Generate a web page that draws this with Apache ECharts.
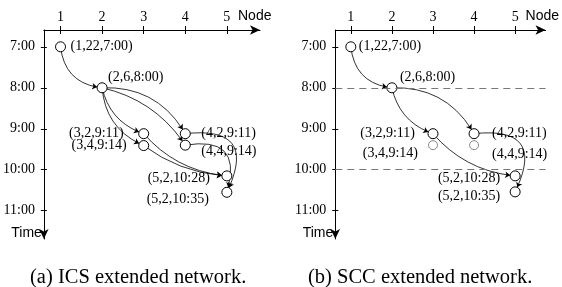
<!DOCTYPE html>
<html>
<head>
<meta charset="utf-8">
<style>
  html, body { margin: 0; padding: 0; background: #fff; }
  #chart { width: 562px; height: 287px; }
</style>
<script src="https://cdn.jsdelivr.net/npm/echarts@6/dist/echarts.min.js"></script>
</head>
<body>
<div id="chart"></div>
<script>
// 节点编号 和 时间位置(小时, 按图上的位置读取)
const nodeNo = [1, 2, 3, 3, 4, 4, 5, 5];
const timeA = [7.0, 8.0, 9.12, 9.41, 9.12, 9.40, 10.15, 10.55];
const timeB = [7.0, 8.0, 9.12, 9.40, 9.12, 9.40, 10.15, 10.54];
const nodeText = ['(1,22,7:00)', '(2,6,8:00)', '(3,2,9:11)', '(3,4,9:14)',
  '(4,2,9:11)', '(4,4,9:14)', '(5,2,10:28)', '(5,2,10:35)'];
const xTicks = [1, 2, 3, 4, 5];
const yTicks = [7, 8, 9, 10, 11];
const yTickText = ['7:00', '8:00', '9:00', '10:00', '11:00'];
const edgesA = [[0, 1], [1, 2], [1, 3], [1, 4], [1, 5], [2, 6], [3, 6], [4, 7], [5, 7]];
const edgesB = [[0, 1], [1, 2], [1, 4], [2, 6], [4, 7]];
const greyB = [3, 5];
const dashTimes = [8, 10];
const captions = ['(a) ICS extended network.', '(b) SCC extended network.'];

// 样式: 曲线弯曲度, 标签位置
const curveA = [-0.4, -0.28, -0.3, 0.3, 0.2, -0.2, -0.15, 0.9, 0.8];
const curveB = [-0.4, -0.28, 0.3, -0.2, 0.9];
const labA = [['left', 10, 0], ['left', 6, -10], ['right', -20, 0], ['right', -17, 0],
  ['left', 16, 0], ['left', 16, 6], ['right', -17, 2], ['right', -18, 7]];
const labB = [['left', 8, 0], ['left', 8, -10], ['right', -18, 0], ['right', -15, 8],
  ['left', 18, 0], ['left', 18, 9], ['right', -15, 2], ['right', -15, 4]];

const serif = 'Liberation Serif';
const sans = 'Liberation Sans';

const grids = [
  { left: 43.3, top: 30, width: 216.7, height: 209 },
  { left: 335.3, top: 30, width: 212.4, height: 209 }
];
const xRange = [[0.6, 5.797], [0.622, 5.74]];
const yRange = [6.59, 11.69];

function xAxes(g) {
  const main = {
    gridIndex: g, type: 'value', position: 'top', min: xRange[g][0], max: xRange[g][1],
    name: 'Node', nameLocation: 'end', nameGap: g ? -20 : -22,
    nameTextStyle: { fontFamily: sans, fontSize: 14, color: '#000', align: 'left', verticalAlign: 'bottom', padding: [0, 0, 7, 0] },
    axisLine: { show: true, onZero: false, symbol: ['none', 'arrow'], symbolSize: [7, 10], lineStyle: { color: '#000', width: 1 } },
    axisTick: { show: true, inside: false, length: 4, customValues: xTicks, lineStyle: { color: '#000' } },
    axisLabel: { customValues: xTicks, margin: 6, fontFamily: serif, fontSize: 14, color: '#000' },
    splitLine: { show: false }
  };
  const inner = {
    gridIndex: g, type: 'value', position: 'top', min: xRange[g][0], max: xRange[g][1],
    axisLine: { show: false },
    axisTick: { show: true, inside: true, length: 4, customValues: xTicks, lineStyle: { color: '#000' } },
    axisLabel: { show: false },
    splitLine: { show: false }
  };
  return [main, inner];
}

function yAxes(g) {
  const main = {
    gridIndex: g, type: 'value', position: 'left', inverse: true, min: yRange[0], max: yRange[1],
    name: 'Time', nameLocation: 'end', nameGap: -6,
    nameTextStyle: { fontFamily: sans, fontSize: 14, color: '#000', align: 'right', verticalAlign: 'middle', padding: [0, 2, 0, 0] },
    axisLine: { show: true, onZero: false, symbol: ['arrow', 'none'], symbolSize: [7, 10], lineStyle: { color: '#000', width: 1 } },
    axisTick: { show: true, inside: false, length: 3, customValues: yTicks, lineStyle: { color: '#000' } },
    axisLabel: {
      customValues: yTicks, margin: 9, fontFamily: serif, fontSize: 14, color: '#000',
      formatter: v => yTickText[yTicks.indexOf(Math.round(v))]
    },
    splitLine: { show: false }
  };
  const inner = {
    gridIndex: g, type: 'value', position: 'left', inverse: true, min: yRange[0], max: yRange[1],
    axisLine: { show: false },
    axisTick: { show: true, inside: true, length: 3, customValues: yTicks, lineStyle: { color: '#000' } },
    axisLabel: { show: false },
    splitLine: { show: false }
  };
  return [main, inner];
}

function graphSeries(g, times, edges, curves, labs, grey) {
  return {
    type: 'graph', coordinateSystem: 'cartesian2d', xAxisIndex: g * 2, yAxisIndex: g * 2,
    layout: 'none', silent: true, z: 3,
    symbol: 'circle', symbolSize: 10,
    edgeSymbol: ['none', 'arrow'], edgeSymbolSize: [0, 5],
    itemStyle: { color: '#fff', borderColor: '#000', borderWidth: 1 },
    lineStyle: { color: '#000', width: 0.8, opacity: 1 },
    label: { show: true, position: 'inside', fontFamily: serif, fontSize: 14, color: '#000' },
    emphasis: { disabled: true },
    data: nodeNo.map((n, i) => {
      const item = {
        name: 'n' + i,
        value: [n, times[i]],
        label: { formatter: nodeText[i], align: labs[i][0], offset: [labs[i][1], labs[i][2]] }
      };
      if (grey.indexOf(i) >= 0) {
        item.symbolSize = 9;
        item.itemStyle = { borderColor: '#888' };
      }
      return item;
    }),
    links: edges.map((e, k) => ({ source: e[0], target: e[1], lineStyle: { curveness: curves[k] } }))
  };
}

const chart = echarts.init(document.getElementById('chart'), null, { renderer: 'canvas' });
chart.setOption({
  animation: false,
  backgroundColor: '#fff',
  title: [
    { text: captions[0], left: 25, top: 262, textStyle: { fontFamily: serif, fontSize: 20.5, fontWeight: 'normal', color: '#000' } },
    { text: captions[1], left: 303, top: 262, textStyle: { fontFamily: serif, fontSize: 20.5, fontWeight: 'normal', color: '#000' } }
  ],
  grid: grids,
  xAxis: xAxes(0).concat(xAxes(1)),
  yAxis: yAxes(0).concat(yAxes(1)),
  series: [
    graphSeries(0, timeA, edgesA, curveA, labA, []),
    graphSeries(1, timeB, edgesB, curveB, labB, greyB),
    {
      type: 'line', xAxisIndex: 2, yAxisIndex: 2, data: [], z: 1,
      markLine: {
        silent: true, symbol: ['none', 'none'], label: { show: false },
        lineStyle: { color: '#777', width: 1, type: [7, 5] },
        data: dashTimes.map(t => ({ yAxis: t }))
      }
    }
  ]
});
</script>
</body>
</html>
